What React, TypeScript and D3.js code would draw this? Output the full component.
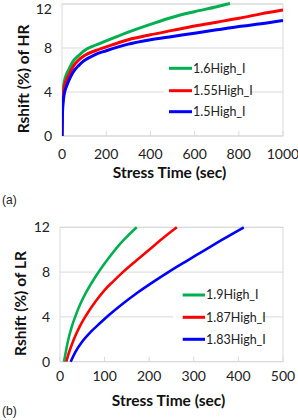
import * as d3 from "d3"

// ---- data ----
// panel (a): HR, stress time 0..1000 s
const hrXTicks = [0, 200, 400, 600, 800, 1000]
const hrYTicks = [0, 4, 8, 12]
const hrNames = ["1.6High_I", "1.55High_I", "1.5High_I"]
const hr16: [number, number][] = [
  [0, 0], [2, 3.1], [5, 4.1], [10, 4.9], [20, 5.6], [30, 6.0], [50, 6.8], [75, 7.3],
  [100, 7.75], [150, 8.25], [200, 8.65], [300, 9.45], [400, 10.15], [500, 10.8],
  [600, 11.3], [700, 11.75], [740, 11.95], [760, 12.05],
]
const hr155: [number, number][] = [
  [0, 0], [2, 2.6], [5, 3.6], [10, 4.4], [20, 5.1], [30, 5.5], [50, 6.3], [75, 6.9],
  [100, 7.3], [150, 7.75], [200, 8.1], [300, 8.75], [400, 9.2], [500, 9.6],
  [600, 10.0], [700, 10.35], [800, 10.7], [900, 11.1], [1000, 11.45],
]
const hr15: [number, number][] = [
  [0, 0], [2, 2.0], [5, 3.0], [10, 3.8], [20, 4.5], [30, 5.0], [50, 5.8], [75, 6.4],
  [100, 6.85], [150, 7.4], [200, 7.75], [300, 8.35], [400, 8.75], [500, 9.05],
  [600, 9.35], [700, 9.65], [800, 9.95], [900, 10.2], [1000, 10.5],
]

// panel (b): LR, stress time 0..500 s
const lrXTicks = [0, 100, 200, 300, 400, 500]
const lrYTicks = [0, 4, 8, 12]
const lrNames = ["1.9High_I", "1.87High_I", "1.83High_I"]
const lr19: [number, number][] = [
  [9, 0], [15, 1.3], [20, 2.2], [27, 3.2], [34, 4.0], [45, 5.1], [60, 6.3], [75, 7.3],
  [90, 8.2], [110, 9.3], [130, 10.3], [150, 11.15], [172, 12],
]
const lr187: [number, number][] = [
  [14, 0], [20, 0.8], [30, 1.9], [45, 3.2], [58, 4.1], [80, 5.4], [100, 6.4],
  [120, 7.2], [141, 8.0], [170, 9.0], [200, 10.0], [230, 11.0], [262, 12],
]
const lr183: [number, number][] = [
  [24, 0], [35, 0.9], [50, 1.8], [70, 2.7], [90, 3.45], [108, 4.1], [140, 5.15],
  [175, 6.2], [210, 7.15], [243, 8.0], [280, 8.9], [320, 9.85], [360, 10.8], [412, 12],
]

const colors = ["#00b050", "#ff0000", "#0000ff"]
const grid = "#d9d9d9"
const font = "Lato, 'Open Sans', sans-serif"

interface PanelProps {
  id: string
  box: { left: number; right: number; top: number; bottom: number }
  xMax: number
  xTicks: number[]
  yTicks: number[]
  series: [number, number][][]
  names: string[]
  yTitle: string
  tag: string
  tickBase: number
  titleBase: number
  yTitleX: number
  tagBase: number
  legend: { x0: number; x1: number; rows: number[]; bg: [number, number, number, number] }
  lineWidth: number
}

function Panel(p: PanelProps) {
  const { box } = p
  const x = d3.scaleLinear().domain([0, p.xMax]).range([box.left, box.right])
  const y = d3.scaleLinear().domain([0, 12]).range([box.bottom, box.top])
  const line = d3
    .line<[number, number]>()
    .x((d) => x(d[0]))
    .y((d) => y(d[1]))
    .curve(d3.curveMonotoneX)
  const midX = (box.left + box.right) / 2
  const midY = (box.top + box.bottom) / 2 + 9

  return (
    <g>
      <defs>
        <clipPath id={`clip-${p.id}`}>
          <rect x={box.left} y={box.top - 2} width={box.right - box.left} height={box.bottom - box.top + 4} />
        </clipPath>
      </defs>
      {/* gridlines */}
      {p.yTicks.map((t) => (
        <line key={t} x1={box.left} x2={box.right} y1={y(t)} y2={y(t)} stroke={grid} strokeWidth={1} />
      ))}
      <rect
        x={box.left}
        y={box.top}
        width={box.right - box.left}
        height={box.bottom - box.top}
        fill="none"
        stroke={grid}
        strokeWidth={1}
      />
      {/* x tick marks */}
      {p.xTicks.map((t) => (
        <line key={t} x1={x(t)} x2={x(t)} y1={box.bottom} y2={box.bottom - 5} stroke={grid} strokeWidth={1} />
      ))}
      {/* legend background */}
      <rect x={p.legend.bg[0]} y={p.legend.bg[1]} width={p.legend.bg[2]} height={p.legend.bg[3]} fill="#fff" />
      {/* series */}
      <g clipPath={`url(#clip-${p.id})`}>
        {p.series.map((s, i) => (
          <path key={i} d={line(s) || ""} fill="none" stroke={colors[i]} strokeWidth={p.lineWidth} />
        ))}
      </g>
      {/* tick labels */}
      {p.yTicks.map((t) => (
        <text
          key={t}
          x={box.left - 10}
          y={Math.max(y(t), 9.5)}
          dy="0.35em"
          textAnchor="end"
          fontSize={14}
          fill="#222"
        >
          {t}
        </text>
      ))}
      {p.xTicks.map((t) => (
        <text key={t} x={x(t)} y={p.tickBase} textAnchor="middle" fontSize={14} fill="#222">
          {t}
        </text>
      ))}
      {/* legend */}
      {p.names.map((n, i) => (
        <g key={n}>
          <line
            x1={p.legend.x0}
            x2={p.legend.x1}
            y1={p.legend.rows[i]}
            y2={p.legend.rows[i]}
            stroke={colors[i]}
            strokeWidth={3}
          />
          <text x={p.legend.x1 + 1} y={p.legend.rows[i]} dy="0.35em" fontSize={12.5} fill="#222">
            {n}
          </text>
        </g>
      ))}
      {/* titles */}
      <text x={midX - 3} y={p.titleBase} textAnchor="middle" fontSize={15.5} fontWeight="bold" fill="#111">
        Stress Time (sec)
      </text>
      <text
        transform={`translate(${p.yTitleX},${midY}) rotate(-90)`}
        textAnchor="middle"
        fontSize={15.5}
        fontWeight="bold"
        fill="#111"
      >
        {p.yTitle}
      </text>
      <text x={2} y={p.tagBase} fontSize={12} fill="#222" fontFamily="'Liberation Sans', Arial, sans-serif">
        {p.tag}
      </text>
    </g>
  )
}

export default function App() {
  return (
    <svg
      width={298}
      height={420}
      style={{ position: "absolute", left: 0, top: 0, background: "#fff" }}
      fontFamily={font}
    >
      <Panel
        id="a"
        box={{ left: 62, right: 283, top: 4, bottom: 136 }}
        xMax={1000}
        xTicks={hrXTicks}
        yTicks={hrYTicks}
        series={[hr16, hr155, hr15]}
        names={hrNames}
        yTitle="Rshift (%) of HR"
        tag="(a)"
        tickBase={159}
        titleBase={177.5}
        yTitleX={29}
        tagBase={204}
        legend={{ x0: 169, x1: 192, rows: [68.3, 90.7, 111.7], bg: [164, 57, 87, 66] }}
        lineWidth={3}
      />
      <Panel
        id="b"
        box={{ left: 60, right: 283, top: 227.3, bottom: 361.7 }}
        xMax={500}
        xTicks={lrXTicks}
        yTicks={lrYTicks}
        series={[lr19, lr187, lr183]}
        names={lrNames}
        yTitle="Rshift (%) of LR"
        tag="(b)"
        tickBase={381}
        titleBase={406}
        yTitleX={26}
        tagBase={415}
        legend={{ x0: 182.7, x1: 205, rows: [295, 317.3, 339.3], bg: [173, 284, 89, 66] }}
        lineWidth={2.6}
      />
    </svg>
  )
}
